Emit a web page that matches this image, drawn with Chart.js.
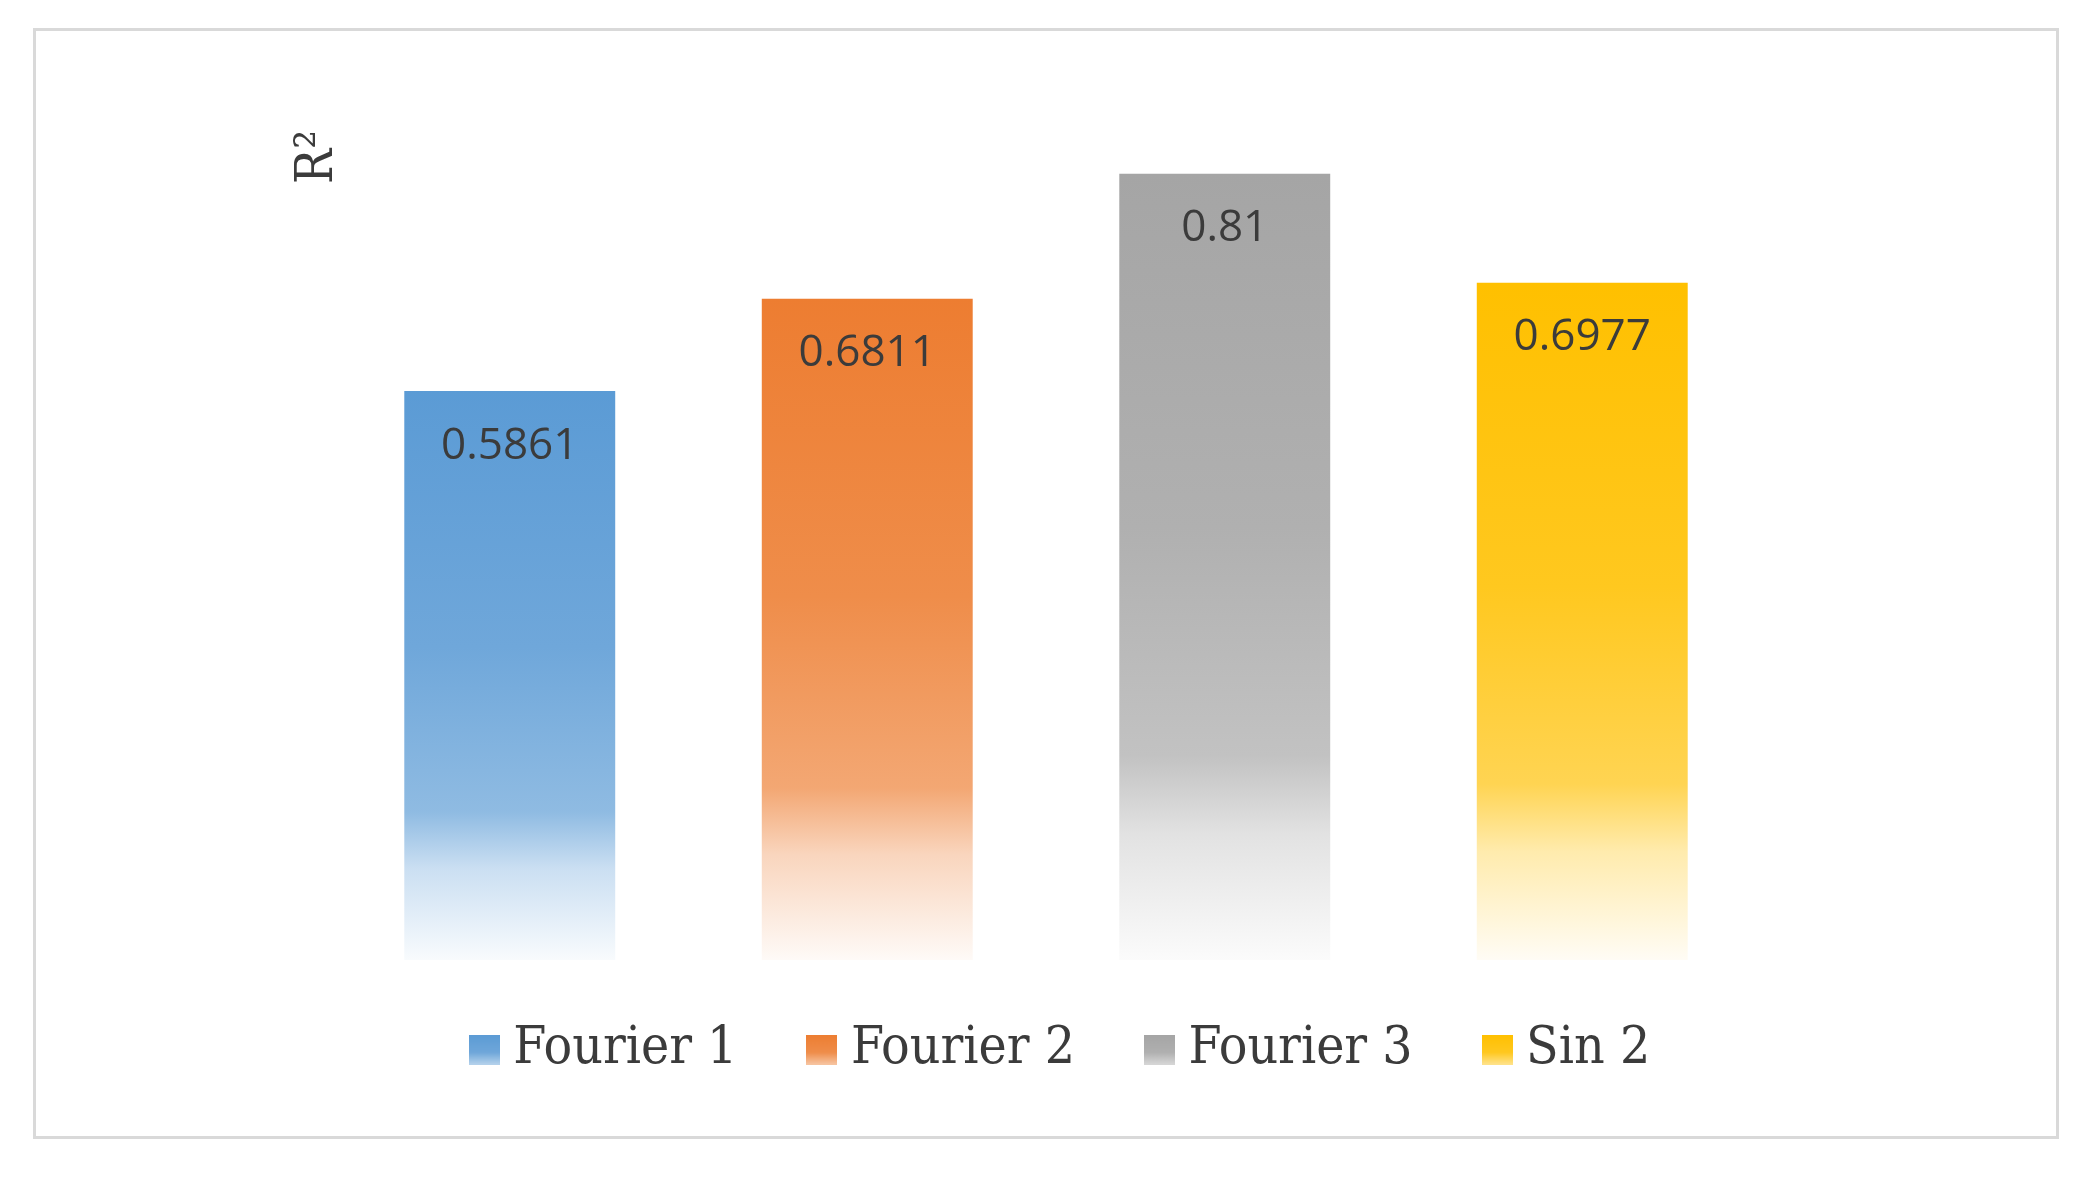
<!DOCTYPE html>
<html><head><meta charset="utf-8">
<script src="https://cdn.jsdelivr.net/npm/chart.js@4.4.1/dist/chart.umd.min.js"></script>
<style>
html,body{margin:0;padding:0;background:#fff;}
#frame{position:absolute;left:33px;top:28px;width:2026px;height:1111px;border:3px solid #d9d9d9;box-sizing:border-box;}
#c{position:absolute;left:0;top:0;}
</style></head><body>
<div id="frame"></div>
<canvas id="c" width="2090" height="1183"></canvas>
<script>
const categories = ['Fourier 1', 'Fourier 2', 'Fourier 3', 'Sin 2'];
const r2Values = [0.5861, 0.6811, 0.81, 0.6977];
const baseColors = ['#5B9BD5', '#ED7D31', '#A5A5A5', '#FFC000'];
const axisTitle = 'R²';

const serifFamily = "'DejaVu Serif Condensed', 'DejaVu Serif', serif";
const textColor = '#3b3b3b';

function tint(hex, t) {
  const n = parseInt(hex.slice(1), 16);
  const r = (n >> 16) & 255, g = (n >> 8) & 255, b = n & 255;
  const m = v => Math.round(v + (255 - v) * t);
  return `rgb(${m(r)},${m(g)},${m(b)})`;
}

function barFill(ctx) {
  const chart = ctx.chart;
  const base = baseColors[ctx.dataIndex % baseColors.length];
  if (!chart.chartArea || ctx.type !== 'data' || !chart.scales.y) return base;
  const y = chart.scales.y;
  const top = y.getPixelForValue(ctx.raw);
  const bot = y.getPixelForValue(0);
  const g = chart.ctx.createLinearGradient(0, top, 0, bot);
  g.addColorStop(0, base);
  g.addColorStop(0.45, tint(base, 0.12));
  g.addColorStop(0.74, tint(base, 0.32));
  g.addColorStop(0.84, tint(base, 0.68));
  g.addColorStop(1, tint(base, 0.96));
  return g;
}

function makeSwatch(base) {
  const c = document.createElement('canvas');
  c.width = 31; c.height = 30;
  const x = c.getContext('2d');
  const g = x.createLinearGradient(0, 0, 0, 30);
  g.addColorStop(0, base);
  g.addColorStop(0.6, tint(base, 0.12));
  g.addColorStop(1, tint(base, 0.55));
  x.fillStyle = g;
  x.fillRect(0, 0, 31, 30);
  return c;
}
const swatches = baseColors.map(makeSwatch);

const valueLabels = {
  id: 'valueLabels',
  afterDatasetsDraw(chart) {
    const ctx = chart.ctx;
    const meta = chart.getDatasetMeta(0);
    ctx.save();
    ctx.font = '44px "Open Sans"';
    ctx.fillStyle = textColor;
    ctx.textAlign = 'center';
    ctx.textBaseline = 'middle';
    meta.data.forEach((el, i) => {
      ctx.fillText(String(chart.data.datasets[0].data[i]), el.x, el.y + 55);
    });
    ctx.restore();
  }
};

const legendTweak = {
  id: 'legendTweak',
  afterLayout(chart) {
    const lg = chart.legend;
    if (!lg) return;
    lg.left += 20; lg.right += 20;
    lg.top -= 19; lg.bottom -= 19;
  }
};

new Chart(document.getElementById('c'), {
  type: 'bar',
  data: {
    labels: categories,
    datasets: [{
      label: 'R²',
      data: r2Values,
      backgroundColor: barFill,
      borderWidth: 0,
      categoryPercentage: 1,
      barPercentage: 0.59
    }]
  },
  plugins: [valueLabels, legendTweak],
  options: {
    responsive: false,
    animation: false,
    events: [],
    layout: { padding: { left: 305, right: 329, top: 130, bottom: 78 } },
    scales: {
      x: { display: false },
      y: {
        display: true,
        min: 0,
        max: 0.855,
        ticks: { display: false },
        grid: { display: false, drawTicks: false },
        border: { display: false },
        title: {
          display: true,
          text: axisTitle,
          align: 'end',
          color: textColor,
          padding: 0,
          font: { family: serifFamily, size: 52, lineHeight: 0.5 }
        }
      }
    },
    plugins: {
      tooltip: { enabled: false },
      legend: {
        display: true,
        position: 'bottom',
        fullSize: false,
        labels: {
          usePointStyle: true,
          pointStyleWidth: 5,
          boxHeight: 30,
          padding: 82,
          color: textColor,
          font: { family: serifFamily, size: 53 },
          generateLabels: (chart) => chart.data.labels.map((l, i) => ({
            text: l,
            fillStyle: baseColors[i],
            strokeStyle: 'rgba(0,0,0,0)',
            lineWidth: 0,
            pointStyle: swatches[i],
            hidden: false,
            index: i,
            fontColor: textColor
          }))
        }
      }
    }
  }
});
</script>
</body></html>
